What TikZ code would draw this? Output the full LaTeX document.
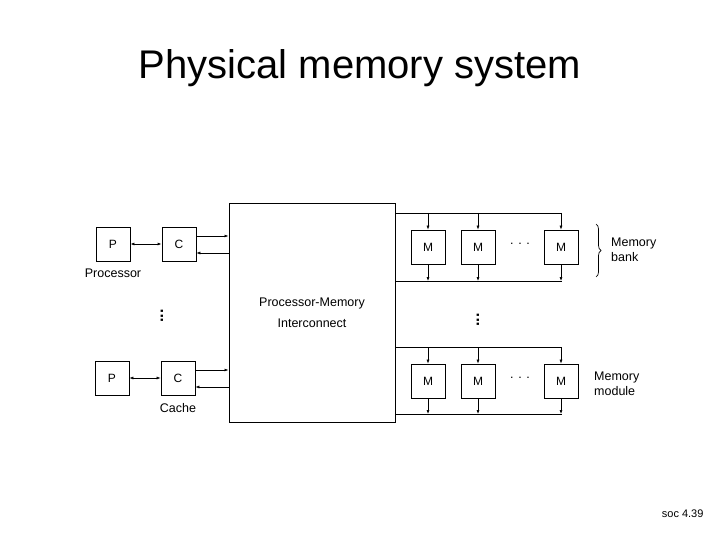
\documentclass[tikz,border=0pt]{standalone}
\usepackage{fontspec}
\setmainfont{Liberation Sans}
\usetikzlibrary{decorations.pathreplacing,arrows.meta}
\begin{document}
\begin{tikzpicture}[x=1pt,y=-1pt,
  box/.style={draw,line width=0.8pt,minimum width=34pt,minimum height=34pt,inner sep=0pt,font=\fontsize{12}{14}\selectfont},
  lbl/.style={font=\fontsize{12.5}{15}\selectfont,inner sep=0pt},
  ar/.style={-{Latex[length=4pt,width=3pt]},line width=0.6pt}]
\useasboundingbox (0,0) rectangle (720,540);
\node[font=\fontsize{40}{46}\selectfont] (title) at (360,68) {Physical memory system};
\node[font=\fontsize{11}{13}\selectfont,anchor=east] (soc) at (707,514) {soc 4.39};
% interconnect
\node[draw,line width=1pt,minimum width=166pt,minimum height=218pt,inner sep=0pt] (ic) at (312,313) {};
\node[lbl,align=center] (ictxt) at (312,313) {Processor-Memory\\[6pt]Interconnect};
% processors
\node[box] (p1) at (113,244) {P};
\node[box] (c1) at (179,244) {C};
\node[box] (p2) at (112,378) {P};
\node[box] (c2) at (178,378) {C};
\node[lbl] (proc) at (113,273) {Processor};
\node[lbl] (cache) at (178,408) {Cache};
\draw[{Latex[length=4pt,width=3pt]}-{Latex[length=4pt,width=3pt]},line width=1pt] (p1) -- (c1);
\draw[{Latex[length=4pt,width=3pt]}-{Latex[length=4pt,width=3pt]},line width=0.6pt] (p2) -- (c2);
\draw[ar] (c1.east |- 0,236) -- (ic.west |- 0,236);
\draw[ar] (ic.west |- 0,253) -- (c1.east |- 0,253);
\draw[ar] (c2.east |- 0,370) -- (ic.west |- 0,370);
\draw[ar] (ic.west |- 0,387) -- (c2.east |- 0,387);
\node[lbl,font=\fontsize{16}{16}\selectfont\bfseries] (vd1) at (162,316) {\rotatebox{90}{...}};
\node[lbl,font=\fontsize{16}{16}\selectfont\bfseries] (vd2) at (478,320) {\rotatebox{90}{...}};
% banks
\foreach \n/\yt/\yb/\ym in {a/213/281/247, b/347/414/381}{
  \coordinate (t\n) at (562,\yt);
  \coordinate (b\n) at (562,\yb);
  \draw[line width=0.8pt] (ic.east |- t\n) -- (t\n);
  \draw[line width=0.8pt] (ic.east |- b\n) -- (b\n);
  \node[box] (m1\n) at (428,\ym) {M};
  \node[box] (m2\n) at (478,\ym) {M};
  \node[box] (m3\n) at (561,\ym) {M};
  \node[lbl] (d\n) at (520,\ym-3) {. . .};
  \foreach \m in {m1\n,m2\n,m3\n}{
    \draw[ar] (\m.north |- t\n) -- (\m.north);
    \draw[ar] (\m.south) -- (\m.south |- b\n);
  }
}
\draw[decorate,decoration={brace,amplitude=5pt},line width=0.7pt] (596,224) -- (596,277);
\node[lbl,anchor=west,align=left] (mb) at (611,250) {Memory\\bank};
\node[lbl,anchor=west,align=left] (mm) at (594,384) {Memory\\module};
\end{tikzpicture}
\end{document}
